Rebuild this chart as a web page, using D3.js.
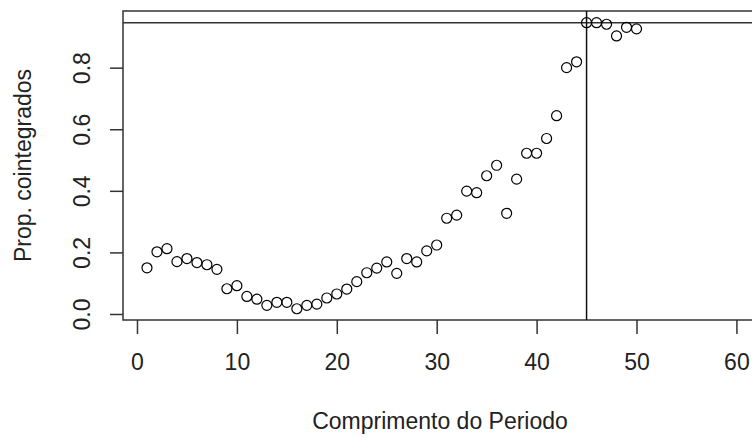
<!DOCTYPE html>
<html>
<head>
<meta charset="utf-8">
<script src="https://cdn.jsdelivr.net/npm/d3@7"></script>
<style>
  body { margin: 0; background: #fff; }
  svg { display: block; font-family: "Liberation Sans", Arial, sans-serif; }
  .tick text { font-size: 23px; fill: #222; }
  .tick line { stroke: #333; stroke-width: 1.5; }
</style>
</head>
<body>
<svg id="chart" width="752" height="437"></svg>
<script>
// period length (1..50) and proportion of cointegrated pairs
const periods = d3.range(1, 51);
const props = [
  0.150, 0.202, 0.212, 0.170, 0.180, 0.167, 0.160, 0.145, 0.082, 0.092,
  0.057, 0.048, 0.028, 0.038, 0.038, 0.017, 0.028, 0.032, 0.052, 0.065,
  0.081, 0.105, 0.134, 0.149, 0.169, 0.132, 0.180, 0.169, 0.205, 0.224,
  0.311, 0.321, 0.399, 0.394, 0.449, 0.483, 0.327, 0.438, 0.522, 0.522,
  0.570, 0.644, 0.800, 0.819, 0.946, 0.946, 0.941, 0.903, 0.931, 0.926
];
const xTicks = [0, 10, 20, 30, 40, 50, 60];
const yTicks = [0, 0.2, 0.4, 0.6, 0.8];
const hLine = 0.946; // max proportion
const vLine = 45;    // period where the max is reached

const svg = d3.select("#chart");
const boxL = 123, boxR = 757, boxT = 11, boxB = 320;

const x = d3.scaleLinear().domain([-1.4, 62.06]).range([boxL, boxR]);
const y = d3.scaleLinear().domain([-0.0195, 0.984]).range([boxB, boxT]);

// x axis
svg.append("g")
  .attr("transform", `translate(0,${boxB})`)
  .call(d3.axisBottom(x).tickValues(xTicks).tickSize(14).tickPadding(20).tickFormat(d3.format("d")))
  .call(g => g.select(".domain").remove());

// y axis, labels rotated like R's default
svg.append("g")
  .attr("transform", `translate(${boxL},0)`)
  .call(d3.axisLeft(y).tickValues(yTicks).tickSize(13).tickFormat(d3.format(".1f")))
  .call(g => g.select(".domain").remove())
  .call(g => g.selectAll(".tick text")
    .attr("x", null).attr("dy", null)
    .attr("text-anchor", "middle")
    .attr("transform", "translate(-33,0) rotate(-90)"));

// box
svg.append("rect")
  .attr("x", boxL).attr("y", boxT)
  .attr("width", boxR - boxL).attr("height", boxB - boxT)
  .attr("fill", "none").attr("stroke", "#333").attr("stroke-width", 1.5);

// reference lines
svg.append("line")
  .attr("x1", boxL).attr("x2", boxR)
  .attr("y1", y(hLine)).attr("y2", y(hLine))
  .attr("stroke", "#333").attr("stroke-width", 1.5);
svg.append("line")
  .attr("x1", x(vLine)).attr("x2", x(vLine))
  .attr("y1", boxT).attr("y2", boxB)
  .attr("stroke", "#111").attr("stroke-width", 1.5);

// points
svg.append("g")
  .selectAll("circle")
  .data(periods.map((p, i) => [p, props[i]]))
  .join("circle")
  .attr("cx", d => x(d[0]))
  .attr("cy", d => y(d[1]))
  .attr("r", 5)
  .attr("fill", "none")
  .attr("stroke", "#000")
  .attr("stroke-width", 1.2);

// axis titles
svg.append("text")
  .attr("x", (boxL + boxR) / 2).attr("y", 429)
  .attr("text-anchor", "middle")
  .attr("font-size", 23).attr("fill", "#222")
  .text("Comprimento do Periodo");

svg.append("text")
  .attr("transform", `translate(31,${(boxT + boxB) / 2}) rotate(-90)`)
  .attr("text-anchor", "middle")
  .attr("font-size", 23).attr("fill", "#222")
  .text("Prop. cointegrados");
</script>
</body>
</html>
